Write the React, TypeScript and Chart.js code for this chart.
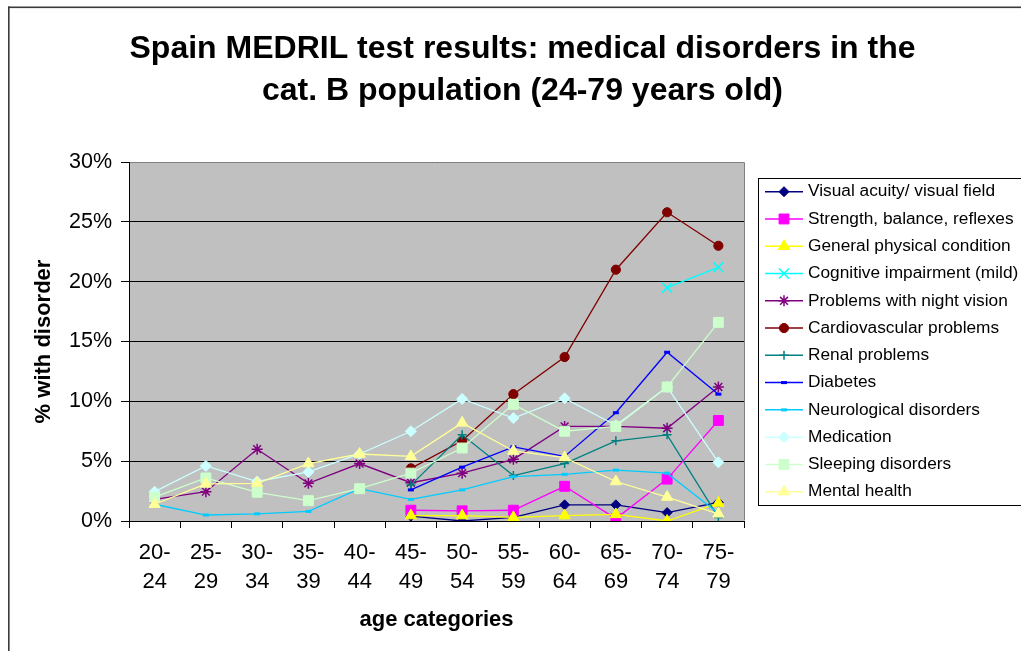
import React, { useEffect, useRef } from "react";
import { Chart, registerables } from "chart.js";
import { drawPoint } from "chart.js/helpers";

Chart.register(...registerables);

// ---- data ----
const ageStarts = ["20-", "25-", "30-", "35-", "40-", "45-", "50-", "55-", "60-", "65-", "70-", "75-"];
const ageEnds = ["24", "29", "34", "39", "44", "49", "54", "59", "64", "69", "74", "79"];
const yTickValues = [0, 5, 10, 15, 20, 25, 30];

const visualAcuity = [null, null, null, null, null, 0.4, 0.0, 0.3, 1.35, 1.35, 0.7, 1.55];
const strengthBalance = [null, null, null, null, null, 0.9, 0.85, 0.9, 2.9, 0.2, 3.5, 8.4];
const generalPhysical = [null, null, null, null, null, 0.45, 0.45, 0.3, 0.45, 0.55, 0.0, 1.5];
const cognitiveImpairment = [null, null, null, null, null, null, null, null, null, null, 19.5, 21.2];
const nightVision = [1.8, 2.45, 6.0, 3.15, 4.8, 3.2, 4.0, 5.15, 7.9, 7.9, 7.75, 11.2];
const cardiovascular = [null, null, null, null, null, 4.4, 6.7, 10.6, 13.7, 21.0, 25.8, 23.0];
const renal = [null, null, null, null, null, 3.0, 7.2, 3.8, 4.8, 6.7, 7.2, 0.3];
const diabetes = [null, null, null, null, null, 2.6, 4.5, 6.2, 5.4, 9.05, 14.1, 10.6];
const neurological = [1.4, 0.5, 0.6, 0.8, 2.7, 1.8, 2.6, 3.7, 3.9, 4.25, 4.0, 0.65];
const medication = [2.45, 4.6, 3.3, 4.1, 5.6, 7.5, 10.2, 8.6, 10.25, 8.0, 11.2, 4.9];
const sleeping = [2.0, 3.6, 2.4, 1.7, 2.7, 4.0, 6.1, 9.75, 7.5, 7.9, 11.2, 16.6];
const mentalHealth = [1.4, 3.1, 3.15, 4.8, 5.6, 5.4, 8.2, 5.85, 5.3, 3.3, 2.0, 0.6];

const seriesNames = [
  "Visual acuity/ visual field",
  "Strength, balance, reflexes",
  "General physical condition",
  "Cognitive impairment (mild)",
  "Problems with night vision",
  "Cardiovascular problems",
  "Renal problems",
  "Diabetes",
  "Neurological disorders",
  "Medication",
  "Sleeping disorders",
  "Mental health",
];
const seriesValues = [
  visualAcuity, strengthBalance, generalPhysical, cognitiveImpairment, nightVision,
  cardiovascular, renal, diabetes, neurological, medication, sleeping, mentalHealth,
];

// ---- styles ----
const seriesStyles = [
  { color: "#000080", point: "rectRot", r: 5, bw: 1 },
  { color: "#FF00FF", point: "rect", r: 7, bw: 1 },
  { color: "#FFFF00", point: "triangle", r: 6.5, bw: 1 },
  { color: "#00FFFF", point: "crossRot", r: 7, bw: 1.5 },
  { color: "#800080", point: "star", r: 5.5, bw: 1.5 },
  { color: "#800000", point: "circle", r: 4.6, bw: 1 },
  { color: "#008080", point: "cross", r: 4.5, bw: 1.5 },
  { color: "#0000FF", point: "line", r: 3, bw: 3 },
  { color: "#00CCFF", point: "line", r: 3, bw: 3 },
  { color: "#CCFFFF", point: "rectRot", r: 5.5, bw: 1 },
  { color: "#CCFFCC", point: "rect", r: 7, bw: 1 },
  { color: "#FFFF99", point: "triangle", r: 6.5, bw: 1 },
];

const FONT = '"Liberation Sans", Arial, Helvetica, sans-serif';

const frameAndLegendPlugin = {
  id: "frameAndLegend",
  beforeDraw(chart: any) {
    const { ctx, chartArea } = chart;
    ctx.save();
    ctx.fillStyle = "#C0C0C0";
    ctx.fillRect(chartArea.left, chartArea.top, chartArea.right - chartArea.left, chartArea.bottom - chartArea.top);
    ctx.restore();
  },
  beforeDatasetsDraw(chart: any) {
    const { ctx, chartArea } = chart;
    ctx.save();
    ctx.strokeStyle = "#808080";
    ctx.lineWidth = 1;
    ctx.beginPath();
    ctx.moveTo(chartArea.left + 1, Math.round(chartArea.top) + 0.5);
    ctx.lineTo(Math.round(chartArea.right) + 0.5, Math.round(chartArea.top) + 0.5);
    ctx.lineTo(Math.round(chartArea.right) + 0.5, chartArea.bottom - 0.5);
    ctx.stroke();
    ctx.restore();
  },
  afterDraw(chart: any) {
    const { ctx, width, height } = chart;
    ctx.save();
    // outer frame (left and top)
    ctx.fillStyle = "#3a3a3a";
    ctx.fillRect(8, 6.5, 1.6, height - 6.5);
    ctx.fillRect(8, 6.5, width - 8, 1.6);

    // legend box
    const boxLeft = 758.5;
    const boxTop = 178.5;
    const boxBottom = 505.5;
    ctx.fillStyle = "#FFFFFF";
    ctx.fillRect(boxLeft, boxTop, width - boxLeft + 10, boxBottom - boxTop);
    ctx.strokeStyle = "#000000";
    ctx.lineWidth = 1;
    ctx.strokeRect(boxLeft, boxTop, width - boxLeft + 10, boxBottom - boxTop);

    const firstY = 191.7;
    const stepY = 27.27;
    ctx.font = "17.3px " + FONT;
    ctx.textBaseline = "middle";
    ctx.textAlign = "left";
    chart.data.datasets.forEach((ds: any, i: number) => {
      const st = seriesStyles[i];
      const y = firstY + i * stepY;
      ctx.strokeStyle = st.color;
      ctx.lineWidth = 1.5;
      ctx.beginPath();
      ctx.moveTo(765, y);
      ctx.lineTo(803, y);
      ctx.stroke();
      ctx.fillStyle = st.color;
      ctx.strokeStyle = st.color;
      ctx.lineWidth = st.bw;
      drawPoint(ctx, { pointStyle: st.point, rotation: 0, radius: st.r, borderWidth: st.bw }, 784, y);
      ctx.fillStyle = "#000000";
      ctx.fillText(ds.label, 808, y);
    });
    ctx.restore();
  },
};

export default function App() {
  const canvasRef = useRef<HTMLCanvasElement | null>(null);

  useEffect(() => {
    if (!canvasRef.current) return;
    const labels = ageStarts.map((s, i) => [s, ageEnds[i]]);
    const datasets = seriesValues.map((vals, i) => {
      const st = seriesStyles[i];
      return {
        label: seriesNames[i],
        data: vals,
        borderColor: st.color,
        backgroundColor: st.color,
        borderWidth: 1.3,
        pointStyle: st.point,
        pointRadius: st.r,
        pointHoverRadius: st.r,
        pointBorderColor: st.color,
        pointBackgroundColor: st.color,
        pointBorderWidth: st.bw,
        fill: false,
        tension: 0,
        spanGaps: false,
        order: seriesValues.length - i,
      };
    });

    const chart = new Chart(canvasRef.current, {
      type: "line",
      data: { labels, datasets },
      options: {
        animation: false,
        responsive: true,
        maintainAspectRatio: false,
        layout: { padding: { left: 24, right: 0, top: 0, bottom: 0 } },
        plugins: {
          legend: { display: false },
          tooltip: { enabled: false },
          title: {
            display: true,
            text: [
              "Spain MEDRIL test results: medical disorders in the",
              "cat. B population (24-79 years old)",
            ],
            color: "#000000",
            font: { family: FONT, size: 32, weight: "bold", lineHeight: 42 / 32 },
            padding: { top: 28.5, bottom: 49.5 },
          },
        },
        scales: {
          x: {
            type: "category",
            offset: true,
            grid: {
              offset: true,
              drawOnChartArea: false,
              drawTicks: true,
              tickLength: 7,
              color: "#000000",
            },
            border: { display: true, color: "#000000", width: 1 },
            ticks: {
              color: "#000000",
              font: { family: FONT, size: 22, lineHeight: 29 / 22 },
              padding: 10.5,
              maxRotation: 0,
              minRotation: 0,
              autoSkip: false,
            },
            title: {
              display: true,
              text: "age categories",
              color: "#000000",
              font: { family: FONT, size: 22, weight: "bold" },
              padding: { top: 0, bottom: 18 },
            },
            afterFit: (s: any) => {
              s.height = 130;
            },
          },
          y: {
            type: "linear",
            position: "left",
            min: 0,
            max: 30,
            afterBuildTicks: (s: any) => {
              s.ticks = yTickValues.map((v) => ({ value: v }));
            },
            ticks: {
              color: "#000000",
              font: { family: FONT, size: 21.5 },
              padding: 9,
              callback: (v: any) => v + "%",
            },
            grid: {
              color: "#000000",
              lineWidth: 1,
              drawTicks: true,
              tickLength: 8,
            },
            border: { display: true, color: "#000000", width: 1 },
            title: {
              display: true,
              text: "% with disorder",
              color: "#000000",
              font: { family: FONT, size: 22, weight: "bold" },
              padding: { top: 6.8, bottom: 4 },
            },
            afterFit: (s: any) => {
              s.width = 105;
            },
          },
          legendSpace: {
            type: "linear",
            axis: "y",
            position: "right",
            display: true,
            grid: { display: false, drawTicks: false },
            border: { display: false },
            ticks: { display: false },
            title: { display: false },
            afterFit: (s: any) => {
              s.width = 277;
            },
          },
        },
      } as any,
      plugins: [frameAndLegendPlugin],
    });

    return () => chart.destroy();
  }, []);

  return (
    <div style={{ position: "absolute", left: 0, top: 0, width: 1021, height: 651 }}>
      <canvas ref={canvasRef} />
    </div>
  );
}
